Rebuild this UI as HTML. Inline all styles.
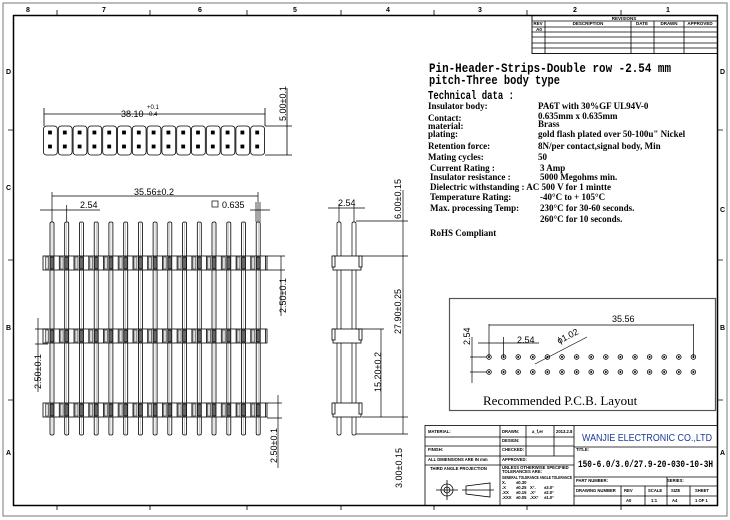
<!DOCTYPE html>
<html><head><meta charset="utf-8"><style>
html,body{margin:0;padding:0;background:#fff}
svg{display:block}
text{font-family:"Liberation Sans",sans-serif;fill:#000}
.m text,text.m{font-family:"Liberation Mono","DejaVu Sans Mono",monospace;font-weight:bold}
.s text,text.s{font-family:"Liberation Serif",serif;font-weight:bold}
</style></head><body>
<svg width="730" height="520" viewBox="0 0 730 520" xmlns="http://www.w3.org/2000/svg">
<defs>
<g id="cell" fill="none" stroke="#000" stroke-width="0.8"><rect x="0.5" y="126" width="13.8" height="29" rx="3"/><rect x="5.5" y="131" width="3" height="3" fill="#000"/><rect x="5.5" y="145" width="3" height="3" fill="#000"/></g>
<g id="pin" fill="none" stroke="#000" stroke-width="0.8"><rect x="-2" y="222" width="4" height="213" rx="1.5"/><line x1="0" y1="222" x2="0" y2="435" stroke="#777" stroke-width="0.4"/></g>
<g id="seg" stroke="#000" stroke-width="0.8"><rect x="-2" y="1" width="4" height="12" fill="#666"/><line x1="7.3" y1="0" x2="7.3" y2="14"/><rect x="-6.5" y="1" width="3" height="12" fill="#ddd" stroke="#555"/></g>
<g id="segs"><use href="#seg" y="256"/><use href="#seg" y="329"/><use href="#seg" y="403"/></g>
<g id="hole" fill="none" stroke="#000" stroke-width="0.8"><circle cx="0" cy="357" r="2.3"/><circle cx="0" cy="357" r="0.6" fill="#000"/><circle cx="0" cy="372" r="2.3"/><circle cx="0" cy="372" r="0.6" fill="#000"/></g>
</defs>
<g fill="none" stroke="#000" stroke-width="1">
<rect x="3" y="3" width="724" height="513" stroke="#777"/>
<rect x="13.5" y="15.5" width="704" height="490" stroke-width="1.5"/>
</g>
<g font-size="7" font-weight="bold">
<text x="26" y="12">8</text><text x="102" y="12">7</text><text x="198" y="12">6</text><text x="293" y="12">5</text>
<text x="386" y="12">4</text><text x="478" y="12">3</text><text x="573" y="12">2</text><text x="666" y="12">1</text>
<text x="6" y="74">D</text><text x="6" y="190">C</text><text x="6" y="330">B</text><text x="6" y="455">A</text>
<text x="720" y="74">D</text><text x="720" y="212">C</text><text x="720" y="330">B</text><text x="720" y="455">A</text>
</g>
<g fill="none" stroke="#000" stroke-width="0.8">
<!-- zone ticks -->
<path d="M57 10V15.5M150 10V15.5M247 10V15.5M341 10V15.5M434 10V15.5M527 10V15.5M621 10V15.5M57 505.5V510M150 505.5V510M247 505.5V510M341 505.5V510M434 505.5V510M527 505.5V510M621 505.5V510M8 130H13.5M8 260H13.5M8 400H13.5M718 130H723M718 260H723M718 400H723"/>
<!-- revisions -->
<rect x="532" y="15.5" width="185.5" height="38" stroke-width="0.9"/>
<path d="M532 21H717.5M532 27H717.5M532 32H717.5M532 37H717.5M532 43H717.5M532 48H717.5M545 21V53.5M631 21V53.5M654 21V53.5M684 21V53.5"/>
<!-- top view dims -->
<path d="M44 108V126M265 108V126M44 114H265M265 126H292M265 155H292M287 88V155"/>
</g>
<use href="#cell" x="43"/><use href="#cell" x="57.8"/><use href="#cell" x="72.6"/><use href="#cell" x="87.4"/><use href="#cell" x="102.2"/><use href="#cell" x="117"/><use href="#cell" x="131.8"/><use href="#cell" x="146.6"/><use href="#cell" x="161.4"/><use href="#cell" x="176.2"/><use href="#cell" x="191"/><use href="#cell" x="205.8"/><use href="#cell" x="220.6"/><use href="#cell" x="235.4"/><use href="#cell" x="250.2"/>
<!-- front view pins -->
<use href="#pin" x="52"/><use href="#pin" x="66.7"/><use href="#pin" x="81.5"/><use href="#pin" x="96.2"/><use href="#pin" x="110.9"/><use href="#pin" x="125.7"/><use href="#pin" x="140.4"/><use href="#pin" x="155.1"/><use href="#pin" x="169.8"/><use href="#pin" x="184.6"/><use href="#pin" x="199.3"/><use href="#pin" x="214"/><use href="#pin" x="228.8"/><use href="#pin" x="243.5"/><use href="#pin" x="258.2"/>
<g fill="#fff" stroke="#000" stroke-width="0.8"><rect x="43" y="256" width="224" height="14"/><rect x="43" y="329" width="224" height="14"/><rect x="43" y="403" width="224" height="14"/></g>
<use href="#segs" x="52"/><use href="#segs" x="66.7"/><use href="#segs" x="81.5"/><use href="#segs" x="96.2"/><use href="#segs" x="110.9"/><use href="#segs" x="125.7"/><use href="#segs" x="140.4"/><use href="#segs" x="155.1"/><use href="#segs" x="169.8"/><use href="#segs" x="184.6"/><use href="#segs" x="199.3"/><use href="#segs" x="214"/><use href="#segs" x="228.8"/><use href="#segs" x="243.5"/><use href="#segs" x="258.2"/>
<g fill="none" stroke="#000" stroke-width="0.7">
<path d="M52 192V222M258 192V222M52 196H258M40 210H100M66.7 205V222M256 202V222M260 202V222M250 210H270M267 256H285M267 270H285M281 256V316M267 403H282M267 418H282M278 395V468M35 329H48M35 344H48M38 318V392"/>
<rect x="212" y="201" width="6" height="6"/>
<!-- side view -->
<rect x="337" y="222" width="4" height="213" rx="1.5"/><rect x="352" y="222" width="4" height="213" rx="1.5"/>
</g>
<g fill="#fff" stroke="#000" stroke-width="0.8">
<rect x="333" y="256" width="28" height="14"/><rect x="333" y="329" width="28" height="14"/><rect x="333" y="403" width="28" height="14"/>
<rect x="332" y="256" width="3" height="11"/><rect x="359" y="256" width="3" height="11"/>
<rect x="332" y="329" width="3" height="11"/><rect x="359" y="329" width="3" height="11"/>
<rect x="332" y="403" width="3" height="11"/><rect x="359" y="403" width="3" height="11"/>
</g>
<g fill="none" stroke="#000" stroke-width="0.7">
<path d="M339 204V222M354 204V222M328 208H365M356 221H408M362 256H408M362 417H408M356 434H408M403 190V434M356 329H384M381 329V417"/>
<!-- pcb -->
<rect x="449.5" y="298.5" width="266" height="112" stroke="#555" stroke-width="1.2"/>
<path d="M489 324V357M693.4 324V357M489 325H693.4M478 343H539M503.6 337V357M535 364L587 337M472 337V383M470 357H487M470 372H487"/>
</g>
<use href="#hole" x="489"/><use href="#hole" x="503.6"/><use href="#hole" x="518.2"/><use href="#hole" x="532.8"/><use href="#hole" x="547.4"/><use href="#hole" x="562"/><use href="#hole" x="576.6"/><use href="#hole" x="591.2"/><use href="#hole" x="605.8"/><use href="#hole" x="620.4"/><use href="#hole" x="635"/><use href="#hole" x="649.6"/><use href="#hole" x="664.2"/><use href="#hole" x="678.8"/><use href="#hole" x="693.4"/>
<!-- title block -->
<g fill="none" stroke="#000" stroke-width="0.8">
<rect x="425" y="425.5" width="292.5" height="80"/>
<path d="M425 437H574M425 446H574M425 456H574M425 465H574M500 425.5V505.5M526 425.5V456M554 425.5V456M574 425.5V505.5M574 447H717.5M574 477H717.5M574 486H717.5M574 496H717.5M621 486V505.5M645 486V505.5M667 477V505.5M690 486V505.5"/>
<circle cx="447" cy="490" r="6"/><circle cx="447" cy="490" r="3"/>
<path d="M436 490H458M447 480V500M462 490H494"/>
<polygon points="466,486 490,483 490,497 466,494"/>
</g>
<!-- revisions text -->
<g font-size="4.5" font-weight="bold" text-anchor="middle">
<text x="624" y="20">REVISIONS</text>
<text x="538" y="25">REV</text><text x="588" y="25">DESCRIPTION</text><text x="642" y="25">DATE</text><text x="669" y="25">DRAWN</text><text x="700" y="25">APPROVED</text>
<text x="539" y="31">A0</text>
</g>
<g class="m">
<text x="429" y="72" font-size="13" textLength="242" lengthAdjust="spacingAndGlyphs">Pin-Header-Strips-Double row -2.54 mm</text>
<text x="429" y="84" font-size="13" textLength="131" lengthAdjust="spacingAndGlyphs">pitch-Three body type</text>
<text x="428" y="99" font-size="12" textLength="86" lengthAdjust="spacingAndGlyphs">Technical data :</text>
</g>
<g class="s" font-size="9">
<text x="428" y="109">Insulator body:</text><text x="538" y="109">PA6T with 30%GF UL94V-0</text>
<text x="428" y="121">Contact:</text><text x="538" y="119">0.635mm x 0.635mm</text>
<text x="428" y="129">material:</text><text x="538" y="127">Brass</text>
<text x="428" y="137">plating:</text><text x="538" y="137">gold flash plated over 50-100u" Nickel</text>
<text x="428" y="149">Retention force:</text><text x="538" y="149">8N/per contact,signal body, Min</text>
<text x="428" y="160">Mating cycles:</text><text x="538" y="160">50</text>
<text x="430" y="171">Current Rating :</text><text x="540" y="171">3  Amp</text>
<text x="430" y="180">Insulator resistance :</text><text x="540" y="180">5000 Megohms min.</text>
<text x="430" y="190">Dielectric withstanding : AC 500 V for 1 mintte</text>
<text x="430" y="200">Temperature Rating:</text><text x="540" y="200">-40°C to + 105°C</text>
<text x="430" y="211">Max. processing Temp:</text><text x="540" y="211">230°C for 30-60 seconds.</text>
<text x="540" y="222">260°C for 10 seconds.</text>
<text x="430" y="236">RoHS Compliant</text>
</g>
<g font-size="9">
<text x="121" y="117">38.10</text><text x="147" y="109" font-size="6">+0.1</text><text x="147" y="116" font-size="6">-0.4</text>
<text x="134" y="195">35.56±0.2</text>
<text x="80" y="208">2.54</text>
<text x="222" y="208">0.635</text>
<text x="338" y="206">2.54</text>
<text x="612" y="322">35.56</text>
<text x="517" y="343">2.54</text>
<text x="559" y="344" transform="rotate(-27 559 344)">ϕ1.02</text>
<text transform="translate(286 121) rotate(-90)">5.00±0.1</text>
<text transform="translate(286 313) rotate(-90)">2.50±0.1</text>
<text transform="translate(41 389) rotate(-90)">2.50±0.1</text>
<text transform="translate(277 463) rotate(-90)">2.50±0.1</text>
<text transform="translate(401 219) rotate(-90)">6.00±0.15</text>
<text transform="translate(401 334) rotate(-90)">27.90±0.25</text>
<text transform="translate(381 392) rotate(-90)">15.20±0.2</text>
<text transform="translate(402 488) rotate(-90)">3.00±0.15</text>
<text transform="translate(470 345) rotate(-90)">2.54</text>
</g>
<text x="483" y="405" font-family="Liberation Serif, serif" style="font-family:'Liberation Serif',serif" font-size="13">Recommended P.C.B. Layout</text>
<g font-size="4.2" font-weight="bold">
<text x="428" y="433">MATERIAL:</text><text x="502" y="433">DRAWN:</text><text x="532" y="433">a_f,er</text><text x="556" y="433">2013.2.8</text>
<text x="502" y="442">DESIGN:</text>
<text x="428" y="451">FINISH:</text><text x="502" y="451">CHECKED:</text>
<text x="428" y="461">ALL DIMENSIONS ARE IN mm</text><text x="502" y="461">APPROVED:</text>
<text x="430" y="470">THIRD ANGLE PROJECTION</text>
<text x="502" y="469">UNLESS OTHERWISE SPECIFIED</text><text x="502" y="473">TOLERANCES ARE:</text>
<text x="502" y="479" textLength="70" lengthAdjust="spacingAndGlyphs">GENERAL TOLERANCE ANGLE TOLERANCE</text>
<text x="502" y="484">X.</text><text x="516" y="484">±0.30</text>
<text x="502" y="489">.X</text><text x="516" y="489">±0.25</text><text x="530" y="489">X°.</text><text x="544" y="489">±3.0°</text>
<text x="502" y="494">.XX</text><text x="516" y="494">±0.15</text><text x="530" y="494">.X°</text><text x="544" y="494">±2.0°</text>
<text x="502" y="499">.XXX</text><text x="516" y="499">±0.05</text><text x="530" y="499">.XX°</text><text x="544" y="499">±1.0°</text>
<text x="576" y="451">TITLE:</text>
<text x="576" y="482">PART NUMBER:</text><text x="667" y="482">SERIES:</text>
<text x="576" y="492">DRAWING NUMBER</text><text x="624" y="492">REV</text><text x="648" y="492">SCALE</text><text x="671" y="492">SIZE</text><text x="695" y="492">SHEET</text>
<text x="626" y="502">A0</text><text x="651" y="502">1:1</text><text x="672" y="502">A4</text><text x="695" y="502">1 OF 1</text>
</g>
<text x="582" y="441" font-size="10.5" style="fill:#1a3a9a" textLength="130" lengthAdjust="spacingAndGlyphs">WANJIE ELECTRONIC CO.,LTD</text>
<text x="578" y="467" class="m" font-size="10" textLength="135" lengthAdjust="spacingAndGlyphs">150-6.0/3.0/27.9-20-030-10-3H</text>
</svg>
</body></html>
